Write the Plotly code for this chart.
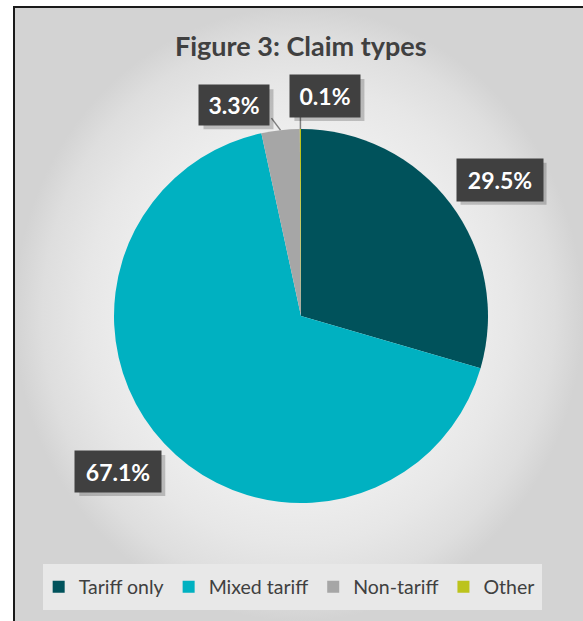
import math
import plotly.graph_objects as go

# ---- data ----
categories = ["Tariff only", "Mixed tariff", "Non-tariff", "Other"]
shares = [29.5, 67.1, 3.3, 0.1]
labels_txt = ["29.5%", "67.1%", "3.3%", "0.1%"]
colors = ["#00525b", "#00b1c1", "#a6a6a6", "#bcc31c"]

W, H = 583, 621
CX, CY, R = 301, 316, 187  # pie centre and radius in px

# label placement relative to the slice edge point (px), and leader vectors
label_off = [(49, -24), (-46, 28), (-46, -25), (25, -33)]
box_size = [(86, 42), (86, 41), (70, 40), (70, 42)]
leaders = [None, None, (-9, -12), (0, -12)]

fig = go.Figure()

# background radial gradient (chart area)
x0p = 14 / W
ytop = 1 - 7 / H
fig.add_trace(go.Scatter(
    x=[x0p, 1.0, 1.0, x0p, x0p], y=[0, 0, ytop, ytop, 0],
    mode="lines", line=dict(width=0), fill="toself",
    fillgradient=dict(type="radial",
                      colorscale=[[0, "#f6f6f6"], [0.5, "#f1f1f1"],
                                  [0.75, "#e7e7e7"], [0.9, "#dedede"], [1, "#d3d3d3"]]),
    showlegend=False, hoverinfo="skip", xaxis="x", yaxis="y"))

fig.add_trace(go.Pie(
    labels=categories, values=shares, sort=False, direction="clockwise",
    rotation=0, marker=dict(colors=colors, line=dict(width=0)),
    textinfo="none", hoverinfo="label+percent",
    domain=dict(x=[(CX - R) / W, (CX + R) / W],
                y=[1 - (CY + R) / H, 1 - (CY - R) / H]),
))

# labels computed from the slice geometry
total = sum(shares)
cum = 0.0
annotations = []
shapes = []
# legend background panel
shapes.append(dict(type="rect", xref="paper", yref="paper", layer="above",
                   x0=43 / W, x1=542 / W, y0=1 - 610 / H, y1=1 - 564 / H,
                   line=dict(width=0), fillcolor="#e8e8e8"))
for i, v in enumerate(shares):
    mid = (cum + v / 2) / total * 2 * math.pi
    cum += v
    ex = CX + R * math.sin(mid)
    ey = CY - R * math.cos(mid)
    lx = ex + label_off[i][0]
    ly = ey + label_off[i][1]
    bw, bh = box_size[i]
    if leaders[i]:
        dx, dy = leaders[i]
        shapes.append(dict(type="line", xref="paper", yref="paper",
                           x0=ex / W, y0=1 - ey / H, x1=(ex + dx) / W, y1=1 - (ey + dy) / H,
                           line=dict(color="#7f7f7f", width=1.5)))
    # drop shadow of the label box (drawn as a plain rectangle)
    shapes.append(dict(type="rect", xref="paper", yref="paper", layer="above",
                       x0=(lx - bw / 2 + 4) / W, x1=(lx + bw / 2 + 4) / W,
                       y0=1 - (ly + bh / 2 + 4) / H, y1=1 - (ly - bh / 2 + 4) / H,
                       line=dict(width=0), fillcolor="rgba(0,0,0,0.2)"))
    annotations.append(dict(
        x=lx / W, y=1 - ly / H, xref="paper", yref="paper",
        text="<b>" + labels_txt[i] + "</b>", showarrow=False,
        xanchor="center", yanchor="middle", width=bw, height=bh, borderpad=0,
        bgcolor="#404040", font=dict(color="white", size=23, family="Lato")))

# chart border
shapes.append(dict(type="rect", xref="paper", yref="paper",
                   x0=x0p, y0=-0.05, x1=1.05, y1=ytop,
                   line=dict(color="#1a1a1a", width=2), fillcolor="rgba(0,0,0,0)"))

fig.update_layout(
    width=W, height=H,
    margin=dict(l=0, r=0, t=0, b=0),
    paper_bgcolor="white", plot_bgcolor="rgba(0,0,0,0)",
    xaxis=dict(range=[0, 1], visible=False, fixedrange=True),
    yaxis=dict(range=[0, 1], visible=False, fixedrange=True),
    title=dict(text="<b>Figure 3: Claim types</b>", x=0.516, xanchor="center",
               y=1 - 47 / H, yanchor="middle",
               font=dict(family="Lato", size=27, color="#404040")),
    legend=dict(orientation="h", x=0.496, xanchor="center", y=1 - 587 / H,
                yanchor="middle", bgcolor="rgba(0,0,0,0)",
                font=dict(family="Lato", size=19.5, color="#404040"),
                itemwidth=30, traceorder="normal"),
    annotations=annotations,
    shapes=shapes,
)

fig.write_html("out.html", config={"displayModeBar": False},
               post_script="document.body.style.margin='0';document.body.style.padding='0';")
